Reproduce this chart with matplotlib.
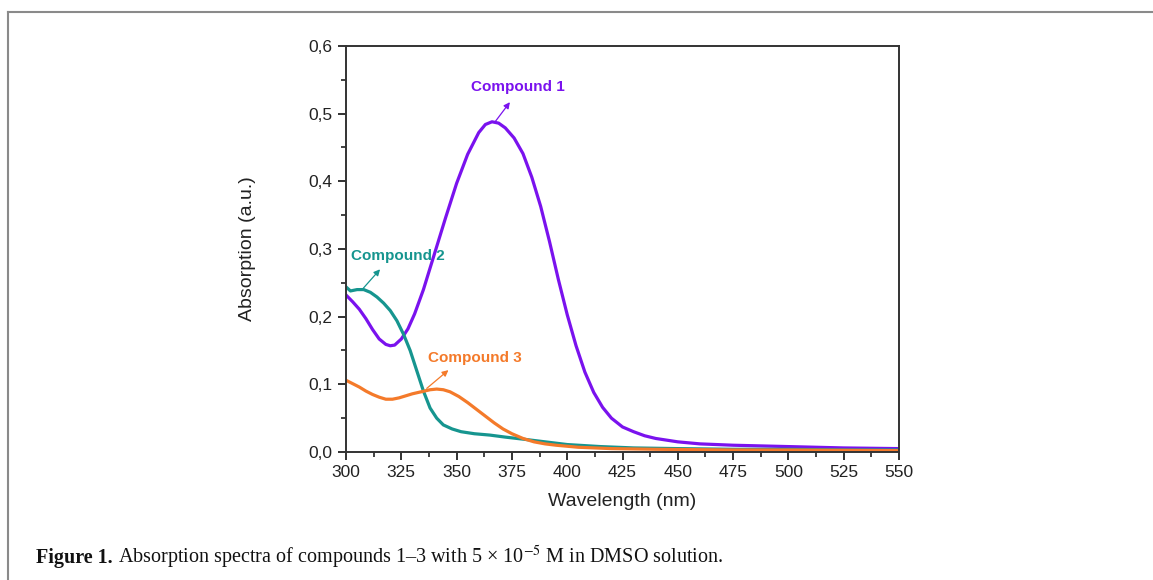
import matplotlib
matplotlib.use("Agg")
import matplotlib.pyplot as plt
from matplotlib.lines import Line2D
from matplotlib.ticker import MultipleLocator, FuncFormatter

# data
wl_c1 = [300, 303, 306, 309, 312, 315, 318, 320, 322, 325, 328, 331, 335, 340, 345,
         350, 355, 360, 363, 366, 369, 372, 376, 380, 384, 388, 392, 396, 400, 404,
         408, 412, 416, 420, 425, 430, 435, 440, 450, 460, 475, 500, 525, 550]
abs_c1 = [0.232, 0.222, 0.211, 0.197, 0.181, 0.167, 0.159, 0.157, 0.158, 0.167, 0.182,
          0.204, 0.240, 0.293, 0.346, 0.397, 0.440, 0.472, 0.484, 0.488, 0.486, 0.479,
          0.464, 0.441, 0.406, 0.363, 0.311, 0.255, 0.203, 0.157, 0.118, 0.088, 0.066,
          0.050, 0.037, 0.030, 0.024, 0.020, 0.015, 0.012, 0.010, 0.008, 0.006, 0.005]

wl_c2 = [300, 302, 305, 308, 311, 314, 317, 320, 323, 326, 329, 332, 335, 338, 341,
         344, 348, 352, 358, 365, 372, 380, 390, 400, 415, 430, 450, 475, 500, 525, 550]
abs_c2 = [0.244, 0.238, 0.240, 0.240, 0.236, 0.229, 0.220, 0.209, 0.194, 0.174, 0.150,
          0.120, 0.090, 0.065, 0.050, 0.040, 0.034, 0.030, 0.027, 0.025, 0.022, 0.019,
          0.015, 0.011, 0.008, 0.006, 0.005, 0.004, 0.004, 0.003, 0.003]

wl_c3 = [300, 303, 306, 309, 312, 315, 318, 321, 324, 327, 330, 334, 338, 341, 344,
         347, 351, 355, 359, 363, 367, 371, 375, 380, 385, 390, 395, 405, 420, 440,
         475, 500, 550]
abs_c3 = [0.106, 0.101, 0.096, 0.090, 0.085, 0.081, 0.078, 0.078, 0.080, 0.083, 0.086,
          0.089, 0.092, 0.093, 0.092, 0.089, 0.082, 0.073, 0.063, 0.053, 0.043, 0.034,
          0.027, 0.020, 0.015, 0.012, 0.010, 0.007, 0.005, 0.004, 0.003, 0.003, 0.002]

purple = '#7a12ee'
teal = '#16958f'
orange = '#f47a2a'

plt.rcParams['font.family'] = ['Liberation Sans', 'DejaVu Sans']
plt.rcParams['mathtext.fontset'] = 'stix'

fig = plt.figure(figsize=(11.53, 5.80), dpi=100)
ax = fig.add_axes([0.3001, 0.2207, 0.4796, 0.70])

ax.plot(wl_c1, abs_c1, color=purple, lw=2.3)
ax.plot(wl_c2, abs_c2, color=teal, lw=2.3)
ax.plot(wl_c3, abs_c3, color=orange, lw=2.3)

# labels with small arrows
labels = [('Compound 1', purple, (377.8, 0.539), (367.4, 0.488), (374.1, 0.517)),
          ('Compound 2', teal, (323.3, 0.290), (307.8, 0.242), (315.4, 0.270)),
          ('Compound 3', orange, (358.1, 0.139), (336.5, 0.094), (346.3, 0.121))]
for txt, col, pos, tail, head in labels:
    ax.text(pos[0], pos[1], txt, color=col, fontsize=11, fontweight='bold',
            ha='center', va='center')
    ax.annotate('', xy=head, xytext=tail,
                arrowprops=dict(arrowstyle='-|>', color=col, lw=0.9,
                                mutation_scale=9, shrinkA=0, shrinkB=0))

ax.set_xlim(300, 550)
ax.set_ylim(0, 0.6)
ax.xaxis.set_major_locator(MultipleLocator(25))
ax.xaxis.set_minor_locator(MultipleLocator(12.5))
ax.yaxis.set_major_locator(MultipleLocator(0.1))
ax.yaxis.set_minor_locator(MultipleLocator(0.05))
ax.yaxis.set_major_formatter(FuncFormatter(lambda v, p: f'{v:.1f}'.replace('.', ',')))
ax.tick_params(which='major', direction='out', length=6, width=1.3, labelsize=12.5,
               colors='#222222')
ax.tick_params(which='minor', direction='out', length=3.5, width=1.2, colors='#222222')
for s in ax.spines.values():
    s.set_linewidth(1.4)
    s.set_color('#333333')

ax.set_xlabel('Wavelength (nm)', fontsize=14, color='#222222', labelpad=9)
ax.set_ylabel('Absorption (a.u.)', fontsize=14, color='#222222', labelpad=38)

# frame around the figure panel
fig.add_artist(Line2D([8 / 1153, 1.0], [1 - 12 / 580, 1 - 12 / 580],
                      transform=fig.transFigure, color='#8a8a8a', lw=1.5))
fig.add_artist(Line2D([8 / 1153, 8 / 1153], [0.0, 1 - 12 / 580],
                      transform=fig.transFigure, color='#8a8a8a', lw=1.5))

# caption
fig.text(36 / 1153, 1 - 563 / 580, 'Figure 1.', fontsize=14.5, fontweight='bold',
         family='Liberation Serif', color='#111111', va='baseline')
fig.text(118 / 1153, 1 - 563 / 580,
         'Absorption spectra of compounds 1\u20133 with 5 \u00d7 10$^{\u22125}$ M in DMSO solution.',
         fontsize=14.5, family='Liberation Serif', color='#111111', va='baseline')

fig.savefig('out.png', dpi=100)
